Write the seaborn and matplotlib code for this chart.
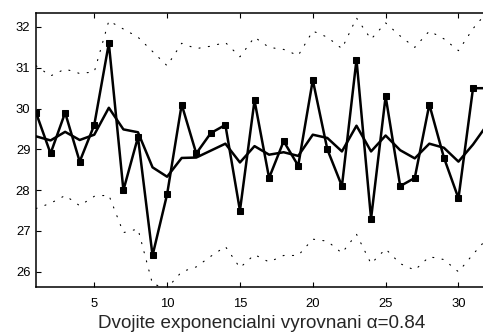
import numpy as np
import pandas as pd
import matplotlib
matplotlib.use("Agg")
import matplotlib.pyplot as plt
import seaborn as sns

x_vals = list(range(1, 33))
data_vals = [29.9, 28.9, 29.9, 28.7, 29.6, 31.6, 28.0, 29.3, 26.4, 27.9,
             30.1, 28.9, 29.4, 29.6, 27.5, 30.2, 28.3, 29.2, 28.6, 30.7,
             29.0, 28.1, 31.2, 27.3, 30.3, 28.1, 28.3, 30.1, 28.8, 27.8,
             30.5, 30.5]
smooth_vals = [29.32, 29.22, 29.43, 29.23, 29.36, 30.02, 29.49, 29.42, 28.56, 28.33,
               28.79, 28.8, 28.97, 29.14, 28.68, 29.08, 28.87, 28.93, 28.84, 29.36,
               29.28, 28.95, 29.58, 28.95, 29.34, 28.98, 28.78, 29.14, 29.04, 28.7,
               29.12, 29.62]
upper_vals = [31.05, 30.8, 30.97, 30.86, 30.9, 32.15, 31.95, 31.75, 31.4, 31.05,
              31.6, 31.47, 31.53, 31.62, 31.27, 31.75, 31.5, 31.45, 31.3, 31.9,
              31.75, 31.47, 32.22, 31.7, 32.1, 31.78, 31.5, 31.9, 31.71, 31.42,
              31.96, 32.38]
lower_vals = [27.55, 27.68, 27.87, 27.62, 27.85, 27.88, 26.96, 27.05, 25.7, 25.6,
              26.0, 26.12, 26.38, 26.62, 26.1, 26.42, 26.24, 26.4, 26.4, 26.8,
              26.75, 26.46, 26.92, 26.2, 26.56, 26.2, 26.04, 26.37, 26.3, 26.0,
              26.43, 26.83]
x_ticks = [5, 10, 15, 20, 25, 30]
y_ticks = [26, 27, 28, 29, 30, 31, 32]
xlabel_text = "Dvojite exponencialni vyrovnani α=0.84"

sns.set_style("ticks")
plt.rcParams['font.family'] = ['Liberation Sans', 'DejaVu Sans']

fig = plt.figure(figsize=(4.83, 3.36), dpi=100)
ax = fig.add_axes([36 / 483, 48.7 / 336, 451.6 / 483, 274.6 / 336])

df = pd.DataFrame({"x": x_vals, "data": data_vals, "smooth": smooth_vals,
                   "upper": upper_vals, "lower": lower_vals})

for col in ["upper", "lower"]:
    sns.lineplot(data=df, x="x", y=col, ax=ax, color="black", linewidth=0.8,
                 linestyle=(0, (1, 7.5)), dash_capstyle="round")
sns.lineplot(data=df, x="x", y="smooth", ax=ax, color="black", linewidth=1.8)
sns.lineplot(data=df, x="x", y="data", ax=ax, color="black", linewidth=1.8,
             marker="s", markersize=5, markeredgecolor="black",
             markerfacecolor="black")

ax.set_xlim(1, 32)
ax.set_ylim(25.62, 32.35)
ax.set_xticks(x_ticks)
ax.set_yticks(y_ticks)
ax.tick_params(direction="in", length=3.5, width=0.8, labelsize=9.4,
               top=True, right=True, colors="black")
ax.tick_params(axis="x", pad=7.5)
ax.tick_params(axis="y", pad=4)
for s in ax.spines.values():
    s.set_linewidth(1.1)
    s.set_color("black")
ax.set_ylabel("")
ax.set_xlabel(xlabel_text, fontsize=13.6, labelpad=4)

fig.savefig("out.png", dpi=100)
